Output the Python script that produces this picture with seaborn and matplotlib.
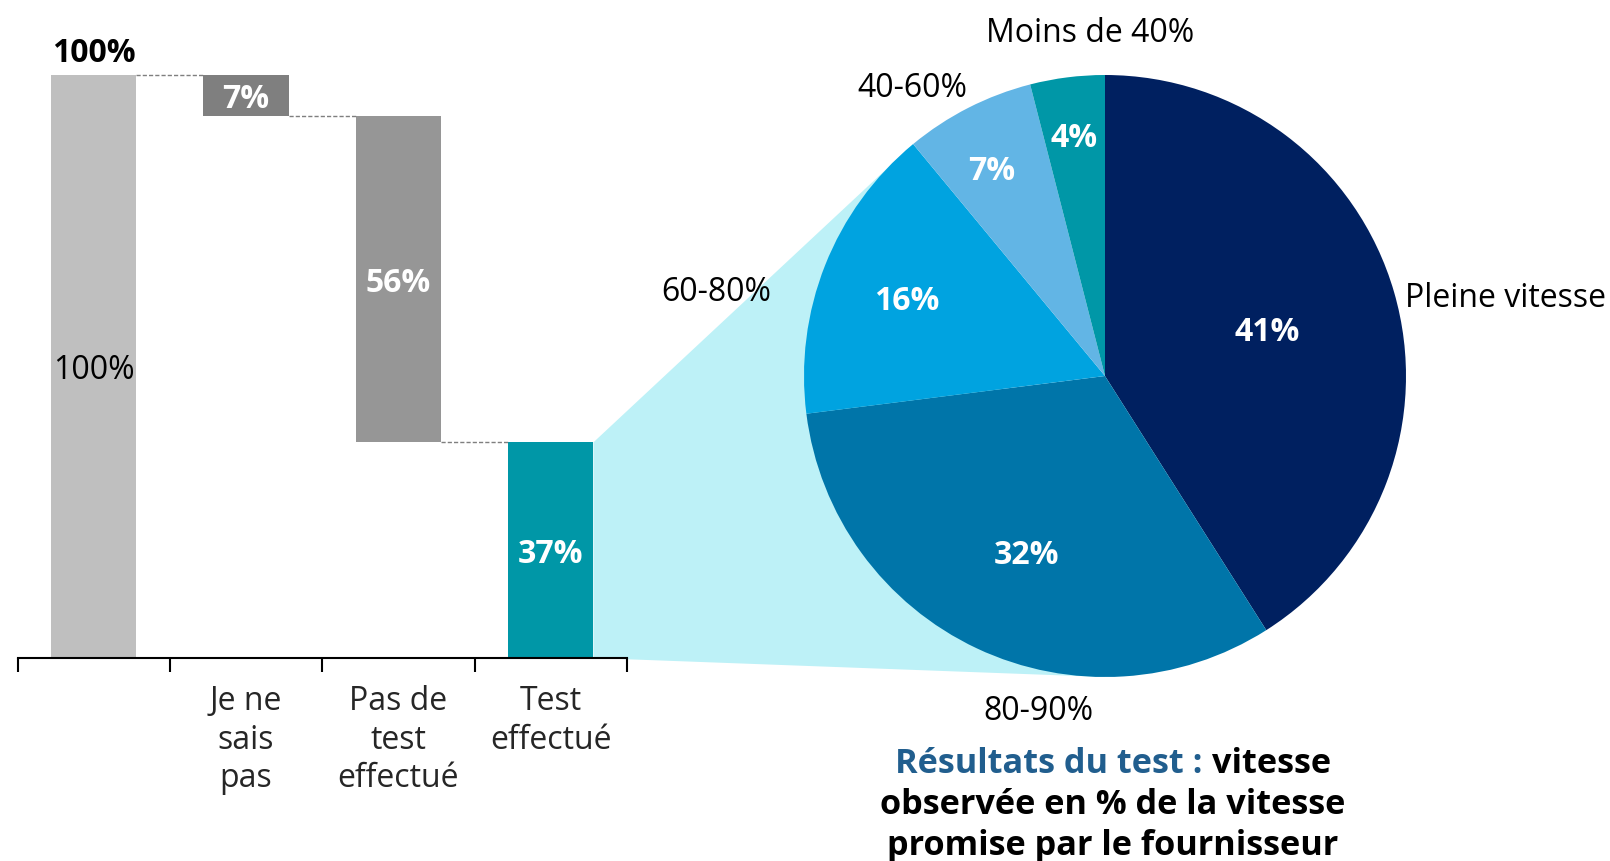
import numpy as np
import pandas as pd
import matplotlib.pyplot as plt
import seaborn as sns
from matplotlib.patches import Polygon

# waterfall data
steps = ["Total", "Je ne sais pas", "Pas de test effectué", "Test effectué"]
step_values = [100, 7, 56, 37]
step_labels = ["", "Je ne\nsais\npas", "Pas de\ntest\neffectué", "Test\neffectué"]
step_colors = ["#BFBFBF", "#7F7F7F", "#969696", "#0097A7"]

# pie data (test results)
speed_cats = ["Pleine vitesse", "80-90%", "60-80%", "40-60%", "Moins de 40%"]
speed_values = [41, 32, 16, 7, 4]
speed_colors = ["#002060", "#0075A9", "#00A3E0", "#62B5E5", "#0097A7"]

sns.set_theme(style="white")
plt.rcParams["font.family"] = ["Open Sans", "DejaVu Sans"]

W, H = 1610, 862
fig = plt.figure(figsize=(W / 100, H / 100), dpi=100)

def fx(x):
    return x / W

def fy(y):
    return 1 - y / H

FS = 23

# ---- waterfall ----
ax1 = fig.add_axes([fx(17.5), fy(659), (627 - 17.5) / W, 583 / H])
df = pd.DataFrame({"step": steps, "value": step_values})
sns.barplot(data=df, x="step", y="value", hue="step", palette=step_colors,
            saturation=1, width=0.56, legend=False, linewidth=0, ax=ax1)

# bottoms: first bar from 0, then each drop hangs from the running total
bottoms = [0]
level = step_values[0]
for v in step_values[1:]:
    level -= v
    bottoms.append(level)
bottoms[-1] = 0
for p, b in zip(ax1.patches, bottoms):
    p.set_y(b)

ax1.set_xlim(-0.5, len(steps) - 0.5)
ax1.set_ylim(0, 100)
ax1.patch.set_visible(False)
for s in ["top", "left", "right"]:
    ax1.spines[s].set_visible(False)
ax1.spines["bottom"].set_color("black")
ax1.spines["bottom"].set_linewidth(1.5)
ax1.set_yticks([])
ax1.set_xticks(np.arange(-0.5, len(steps)), labels=[""] * (len(steps) + 1))
ax1.set_xticks(np.arange(len(steps)), labels=step_labels, minor=True)
ax1.tick_params(axis="x", which="major", direction="out", length=10, width=1.5,
                color="black", bottom=True)
ax1.tick_params(axis="x", which="minor", length=0, pad=19, labelsize=FS)
for t in ax1.get_xticklabels(minor=True):
    t.set_linespacing(1.22)
ax1.set_xlabel("")
ax1.set_ylabel("")

hw = 0.28
# dashed connectors
lvl = step_values[0]
for i in range(len(steps) - 1):
    if i > 0:
        lvl -= step_values[i]
    ax1.plot([i + hw, i + 1 - hw], [lvl, lvl], ls=(0, (3, 1.5)), lw=1,
             color="#7F7F7F", clip_on=False)

# value labels
ax1.annotate(f"{step_values[0]}%", (0, 100), xytext=(0, 22), textcoords="offset pixels",
             ha="center", va="center", fontsize=FS, fontweight="bold", color="black")
for i, (v, b) in enumerate(zip(step_values, bottoms)):
    ax1.annotate(f"{v}%", (i, b + v / 2), xytext=(0, -3), textcoords="offset pixels",
                 ha="center", va="center", fontsize=FS,
                 fontweight="normal" if i == 0 else "bold",
                 color="black" if i == 0 else "white")

# ---- pie ----
cx, cy, r = 1105, 377, 301
ax2 = fig.add_axes([fx(cx - r), fy(cy + r), 2 * r / W, 2 * r / H])
wedges, _ = ax2.pie(speed_values, colors=speed_colors, startangle=90,
                    counterclock=False, radius=1,
                    wedgeprops=dict(linewidth=0))
ax2.set_xlim(-1, 1)
ax2.set_ylim(-1, 1)
ax2.patch.set_visible(False)

# percentage labels inside, radius per slice
pct_r = [0.56, 0.64, 0.71, 0.79, 0.81]
pct_shift = [0, 1, 0, 1.5, 0]
for w, v, rr, sh in zip(wedges, speed_values, pct_r, pct_shift):
    a = np.deg2rad((w.theta1 + w.theta2) / 2 + sh)
    ax2.annotate(f"{v}%", (rr * np.cos(a), rr * np.sin(a)), xytext=(0, -3),
                 textcoords="offset pixels", ha="center", va="center",
                 fontsize=FS, fontweight="bold", color="white")

# category labels outside
lab_pos = [(1.33, 0.26), (-0.22, -1.11), (-1.29, 0.28), (-0.64, 0.96), (-0.05, 1.14)]
for name, (lx, ly) in zip(speed_cats, lab_pos):
    ax2.text(lx, ly, name, ha="center", va="center", fontsize=FS, color="black",
             clip_on=False)

# ---- cyan zoom band between last bar and pie ----
cum = np.cumsum(speed_values)
theta_top = np.deg2rad(90 - 360 * cum[2] / sum(speed_values))
pts_disp = [
    ax1.transData.transform((len(steps) - 1 + hw, step_values[-1])),
    ax2.transData.transform((np.cos(theta_top), np.sin(theta_top))),
    ax2.transData.transform((0, -1)),
    ax1.transData.transform((len(steps) - 1 + hw, 0)),
]
pts = fig.transFigure.inverted().transform(pts_disp)
fig.add_artist(Polygon(pts, closed=True, facecolor="#BDF1F7", edgecolor="none",
                       transform=fig.transFigure, zorder=-1))

# ---- caption under the pie ----
fig.canvas.draw()
renderer = fig.canvas.get_renderer()
cap_x = 1113
CFS = 24.7
t1 = fig.text(0, fy(764), "Résultats du test : ", fontsize=CFS, fontweight="bold",
              color="#215E8E", va="center", ha="left")
t2 = fig.text(0, fy(764), "vitesse", fontsize=CFS, fontweight="bold",
              color="black", va="center", ha="left")
w1 = t1.get_window_extent(renderer).width
w2 = t2.get_window_extent(renderer).width
x0 = cap_x - (w1 + w2) / 2
t1.set_x(fx(x0))
t2.set_x(fx(x0 + w1))
fig.text(fx(cap_x), fy(805), "observée en % de la vitesse", fontsize=CFS,
         fontweight="bold", color="black", ha="center", va="center")
fig.text(fx(cap_x), fy(846), "promise par le fournisseur", fontsize=CFS,
         fontweight="bold", color="black", ha="center", va="center")

fig.savefig("out.png", dpi=100)
